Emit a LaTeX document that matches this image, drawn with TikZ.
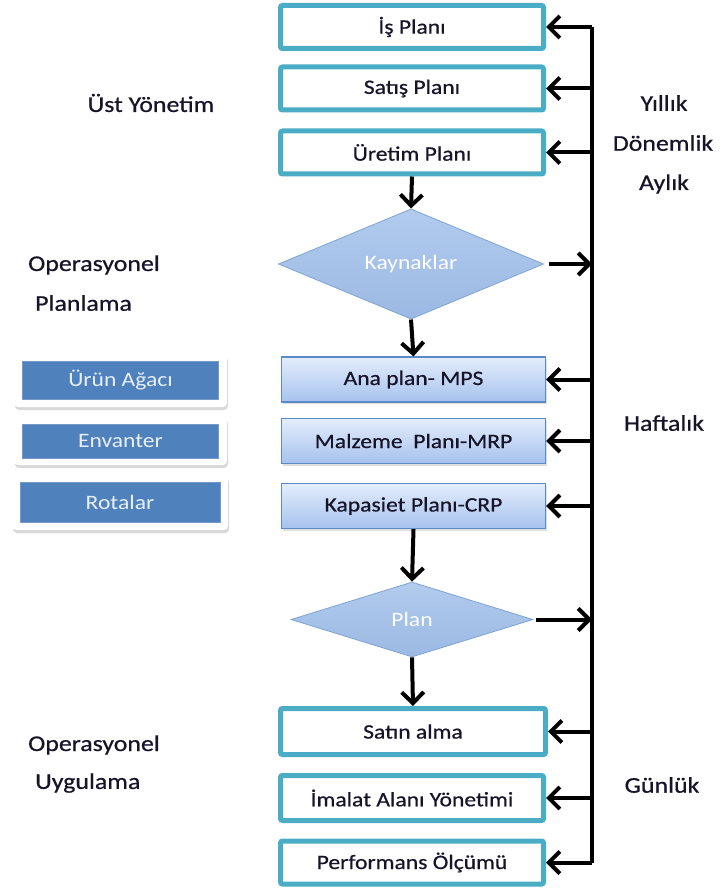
\documentclass[tikz,border=0pt]{standalone}
\usepackage{fontspec}
\setmainfont[FakeStretch=1.15, FakeBold=0.6]{Carlito}
\newfontfamily\lightfamily[FakeStretch=1.15]{Carlito}
\usetikzlibrary{arrows.meta,shapes.geometric,shadows}

\definecolor{tealline}{HTML}{4BACC6}
\definecolor{darkfill}{HTML}{4F81BD}
\definecolor{planedge}{HTML}{5B8ACB}
\definecolor{plantop}{HTML}{E4EDFB}
\definecolor{planbot}{HTML}{A6C2EE}
\definecolor{dectop}{HTML}{B2CBEE}
\definecolor{decbot}{HTML}{9BB9E3}
\definecolor{decedge}{HTML}{7FA3D3}
\definecolor{txt}{HTML}{17142A}
\definecolor{lighttxt}{HTML}{E9EFF8}

\newcommand{\boxfont}{\fontsize{20.5}{24}\selectfont}
\newcommand{\lightboxfont}{\lightfamily\fontsize{20.5}{24}\selectfont}
\newcommand{\lblfont}{\fontsize{22.5}{26}\selectfont}

\tikzset{
  x=1pt, y=-1pt,
  tealbox/.style={draw=tealline, line width=5pt, fill=white, rounded corners=2pt,
    minimum width=263pt, minimum height=43pt, inner sep=0pt, font=\boxfont, text=txt},
  planbox/.style={draw=planedge, line width=1.2pt, top color=plantop, bottom color=planbot,
    minimum width=264pt, minimum height=45pt, inner sep=0pt, font=\boxfont, text=txt,
    drop shadow={shadow xshift=1pt, shadow yshift=-2pt, opacity=0.25}},
  decision/.style={diamond, draw=decedge, line width=0.8pt, top color=dectop, bottom color=decbot,
    inner sep=0pt, font=\lightboxfont, text=white},
  frame/.style={fill=white, rounded corners=4pt,
    drop shadow={shadow xshift=1pt, shadow yshift=-3pt, opacity=0.3}},
  databox/.style={fill=darkfill, draw=darkfill!80!white, line width=0.6pt, inner sep=0pt,
    font=\lightboxfont, text=lighttxt},
  lbl/.style={font=\lblfont, text=txt, inner sep=0pt},
  flow/.style={line width=4pt, -{Straight Barb[length=11pt, width=22pt]}},
  bus/.style={line width=4pt, line cap=square},
}

\begin{document}
\begin{tikzpicture}
\useasboundingbox (0,0) rectangle (719,890);
\fill[white] (0,0) rectangle (719,890);

% main column
\node[tealbox] (is)  at (412,27)    {İş Planı};
\node[tealbox] (sat) at (412,88.5)  {Satış Planı};
\node[tealbox] (ure) at (412,152.5) {Üretim Planı};
\node[decision, minimum width=265pt, minimum height=89pt] (kay) at (411,264) {Kaynaklar};
\node[planbox] (ana) at (413.5,379.5) {Ana plan- MPS};
\node[planbox] (mal) at (413.5,441)   {Malzeme\ \ Planı-MRP};
\node[planbox] (kap) at (413.5,506)   {Kapasiet Planı-CRP};
\node[decision, minimum width=242pt, minimum height=75pt] (pln) at (412,619.5) {Plan};
\node[tealbox, minimum height=46pt, minimum width=265pt] (satin) at (413,731.5) {Satın alma};
\node[tealbox, minimum height=45pt] (ima) at (412,798)   {İmalat Alanı Yönetimi};
\node[tealbox] (per) at (412,862.5) {Performans Ölçümü};

% downward flow
\draw[flow] (ure.south) -- (kay.north);
\draw[flow] (kay.south) -- (ana.north);
\draw[flow] (kap.south) -- (pln.north);
\draw[flow] (pln.south) -- (satin.north);

% feedback bus on the right
\coordinate (bt) at (592,27);
\coordinate (bb) at (592,862.5);
\draw[bus] (bt) -- (bb);
\foreach \n in {is,sat,ure,ana,mal,kap,satin,ima,per}
  \draw[flow] (bt |- \n.east) -- (\n.east);
\draw[flow] ([xshift=5pt]kay.east) -- (bt |- kay.east);
\draw[flow] ([xshift=3pt]pln.east) -- (bt |- pln.east);

% data inputs on the left
\node[frame, minimum width=213pt, minimum height=53pt] (f1) at (120.5,380.5) {};
\node[frame, minimum width=213pt, minimum height=48pt] (f2) at (120.5,441)   {};
\node[frame, minimum width=216pt, minimum height=55pt] (f3) at (120,502.5)   {};
\node[databox, minimum width=196pt, minimum height=38pt] (urun) at (f1) {Ürün Ağacı};
\node[databox, minimum width=196pt, minimum height=34pt] (env)  at (f2) {Envanter};
\node[databox, minimum width=200pt, minimum height=40pt] (rot)  at (f3) {Rotalar};

% level labels
\node[lbl] (ust) at (151,103) {Üst Yönetim};
\node[lbl, anchor=west] (op1) at (28,265) {Operasyonel};
\node[lbl, anchor=west] (pla) at (35,303) {Planlama};
\node[lbl, anchor=west] (op2) at (28,745) {Operasyonel};
\node[lbl, anchor=west] (uyg) at (35,783) {Uygulama};

% period labels
\node[lbl] (yil) at (664,103) {Yıllık};
\node[lbl] (don) at (663,143) {Dönemlik};
\node[lbl] (ayl) at (664,184) {Aylık};
\node[lbl] (haf) at (664,423) {Haftalık};
\node[lbl] (gun) at (662,785) {Günlük};
\end{tikzpicture}
\end{document}
